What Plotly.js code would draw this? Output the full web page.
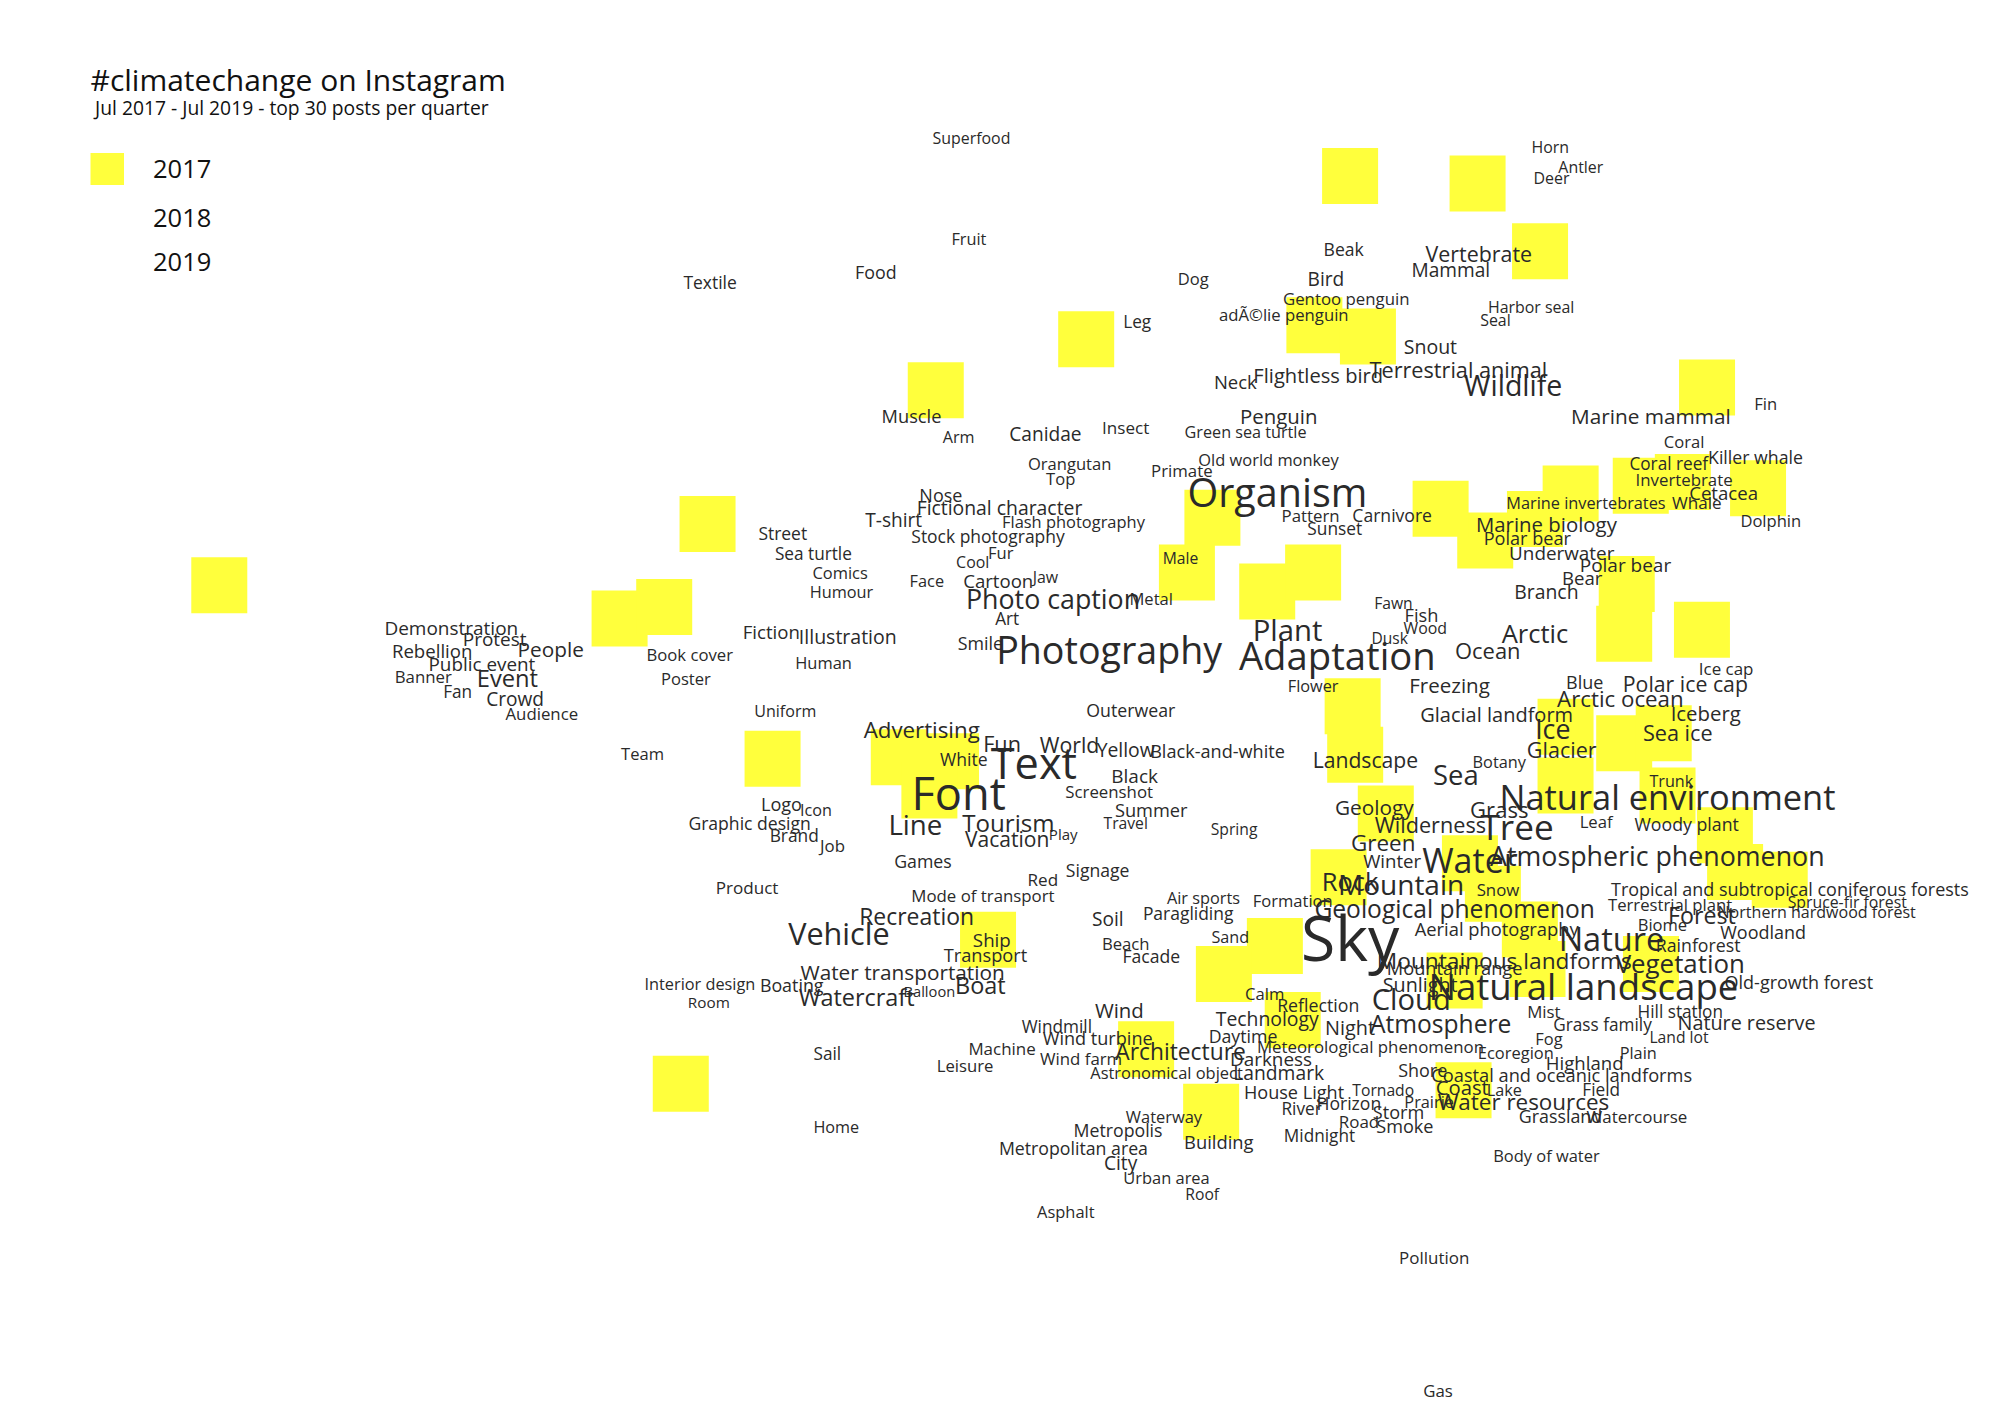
<!DOCTYPE html>
<html>
<head>
<meta charset="utf-8">
<script src="https://cdn.plot.ly/plotly-3.0.1.min.js"></script>
<style>html,body{margin:0;padding:0;background:#fff;}#chart{width:1999px;height:1414px;}</style>
</head>
<body>
<div id="chart"></div>
<script>
// ---- Data: tag labels with embedding coordinates (arbitrary units) and weight ----
const labels = [
"Superfood","Horn","Antler","Deer","Fruit","Beak","Vertebrate","Mammal","Food","Bird",
"Dog","Textile","Gentoo penguin","Harbor seal","Seal","adÃ©lie penguin","Leg","Snout","Terrestrial animal","Flightless bird",
"Neck","Wildlife","Fin","Muscle","Marine mammal","Penguin","Canidae","Insect","Green sea turtle","Arm",
"Coral","Old world monkey","Orangutan","Killer whale","Coral reef","Primate","Top","Invertebrate","Nose","Organism",
"Cetacea","Marine invertebrates","Whale","Fictional character","T-shirt","Pattern","Carnivore","Dolphin","Flash photography","Marine biology",
"Sunset","Street","Stock photography","Polar bear","Sea turtle","Fur","Underwater","Cool","Male","Polar bear",
"Comics","Jaw","Bear","Cartoon","Face","Humour","Branch","Metal","Photo caption","Fawn",
"Fish","Art","Demonstration","Wood","Plant","Fiction","Illustration","Arctic","Protest","Dusk",
"Smile","Photography","People","Rebellion","Ocean","Book cover","Adaptation","Human","Public event","Event",
"Banner","Poster","Ice cap","Flower","Freezing","Polar ice cap","Fan","Crowd","Blue","Arctic ocean",
"Outerwear","Uniform","Audience","Glacial landform","Iceberg","Advertising","Sea ice","Ice","Fun","World",
"Yellow","Black-and-white","Glacier","Team","White","Text","Landscape","Botany","Sea","Black",
"Trunk","Screenshot","Font","Natural environment","Logo","Icon","Summer","Geology","Grass","Tree",
"Graphic design","Line","Tourism","Travel","Wilderness","Leaf","Woody plant","Spring","Brand","Play",
"Vacation","Job","Green","Water","Atmospheric phenomenon","Winter","Games","Signage","Red","Rock",
"Mountain","Snow","Product","Tropical and subtropical coniferous forests","Air sports","Mode of transport","Formation","Terrestrial plant","Spruce-fir forest","Geological phenomenon",
"Northern hardwood forest","Paragliding","Recreation","Soil","Forest","Biome","Vehicle","Aerial photography","Sand","Ship",
"Woodland","Nature","Sky","Rainforest","Beach","Facade","Transport","Mountainous landforms","Vegetation","Water transportation",
"Mountain range","Interior design","Boating","Sunlight","Boat","Old-growth forest","Natural landscape","Balloon","Watercraft","Calm",
"Room","Cloud","Reflection","Wind","Mist","Hill station","Technology","Atmosphere","Nature reserve","Grass family",
"Windmill","Night","Daytime","Wind turbine","Land lot","Fog","Machine","Meteorological phenomenon","Sail","Architecture",
"Ecoregion","Plain","Darkness","Wind farm","Highland","Leisure","Astronomical object","Landmark","Shore","Coastal and oceanic landforms",
"Coast","House Light","Tornado","Lake","Field","Horizon","Prairie","Water resources","River","Storm",
"Waterway","Grassland","Watercourse","Road","Home","Smoke","Metropolis","Midnight","Building","Metropolitan area",
"Body of water","City","Urban area","Roof","Asphalt","Pollution","Gas"
];
const tagX = [
762,1216,1240,1217,760,1054,1160,1138,687,1040,
936,557,1056,1201,1173,1007,892,1122,1144,1034,
969,1187,1385,715,1295,1003,820,883,977,752,
1321,995,839,1377,1309,927,832,1321,738,1002,
1352,1244,1331,784,701,1028,1092,1389,842,1213,
1047,614,775,1198,638,785,1225,763,926,1275,
659,820,1241,783,727,660,1213,903,826,1093,
1115,790,354,1118,1010,605,665,1204,388,1090,
769,870,432,339,1167,541,1049,646,378,398,
332,538,1354,1030,1137,1322,359,404,1243,1271,
887,616,425,1174,1338,723,1316,1218,786,839,
883,955,1225,504,756,811,1071,1176,1142,890,
1311,870,752,1308,613,640,903,1078,1176,1190,
588,718,791,883,1122,1252,1323,968,623,834,
790,653,1085,1153,1300,1092,724,861,818,1059,
1099,1175,586,1404,944,771,1014,1310,1449,1141,
1425,932,719,869,1335,1304,658,1174,965,778,
1383,1264,1059,1332,883,903,773,1180,1318,708,
1141,549,621,1114,769,1411,1242,729,672,992,
556,1107,1034,878,1211,1318,994,1130,1370,1257,
829,1059,975,861,1317,1215,786,1075,649,926,
1189,1285,997,848,1243,757,915,1003,1116,1225,
1147,1015,1085,1180,1256,1058,1121,1195,1021,1097,
913,1224,1284,1066,656,1102,877,1035,956,842,
1213,879,915,943,836,1125,1128
];
const tagY = [
108,115,130,139,187,195,199,211,213,218,
218,221,234,240,250,246,252,272,290,294,
299,303,316,326,326,326,340,335,338,342,
346,360,363,358,363,369,375,376,388,388,
386,394,394,398,407,404,404,408,409,411,
414,418,420,422,434,433,433,440,437,443,
449,452,453,455,455,464,464,469,470,472,
482,485,492,492,495,495,499,497,501,500,
504,511,509,510,510,513,516,519,520,532,
530,532,524,537,537,536,542,548,535,548,
557,557,559,560,559,572,575,572,583,584,
588,589,588,591,595,600,596,597,608,608,
612,620,624,626,630,635,635,633,635,650,
645,647,646,645,647,644,646,650,655,654,
658,663,661,676,672,675,675,682,689,692,
694,697,696,697,704,702,706,709,707,713,
715,716,719,720,718,725,733,728,734,737,
731,737,739,741,740,750,749,753,756,762,
759,771,772,772,773,770,775,777,782,779,
785,784,788,792,793,793,799,803,802,803,
805,806,812,814,813,814,822,820,826,825,
825,825,830,830,833,835,841,841,839,843,
853,856,854,854,854,865,864,864,869,872,
875,875,875,879,883,883,886,890,895,900,
906,912,923,936,950,986,1090
];
// relative weight of each tag (drives the label font size)
const weight = [
12.5,12.5,12.5,12.5,12.8,13.8,16.8,15,14,15,
13,13.7,13.2,12.5,12.5,13.1,13.5,15.3,17,15.8,
14.5,22.4,13,14.3,16.3,16,15,13.4,12.7,12.7,
13,12.9,13,13.9,13.5,13.2,13,13.2,14.1,31,
14.6,12.8,13.4,15.2,15,13.2,13.8,13,12.9,16,
13.6,13.7,13.7,14.2,13.5,13,14.8,12.5,12.3,14.9,
12.9,12.5,14.6,14.6,12.8,12.8,15.2,13,21,12.3,
14.3,13.5,14.9,12.5,23,14.6,15.3,20,14.9,12.2,
14,29.5,16.3,14.6,17.2,13.1,30,12.9,14.8,18.6,
13.2,13,13.3,12.8,16.1,16.7,13.5,15,14.1,17.5,
13.9,12.6,13.2,15.7,16,17.5,17,21,17,16.7,
15.2,14.2,16.9,13,13.8,34,16.6,12.8,21.5,14.9,
12.7,13.2,35.5,27,14.2,12.7,14.3,16.3,17.3,27.6,
13.8,21.7,18.9,12.3,17,13.1,13.9,12.3,13.6,11.8,
16.5,13.2,17.6,26.7,21,14.6,13.9,13.8,13.4,20,
22,13.2,13.4,14.1,12.8,13.2,13,13.1,12.4,19.3,
12.6,13.7,18,15,18.2,13,24,14.4,12.7,14.7,
14.1,25.5,49,13.9,13.1,13.8,14.3,17.8,20.3,16.3,
14.3,12.8,14,15.5,18.4,14.1,28.7,11.5,18.4,13.1,
12,22.9,13.9,16,13.2,13.5,15.2,19.3,15.5,13.5,
13.5,15.6,13.9,14.2,12.3,12.9,13.3,13.2,13.5,17.9,
12.9,12.8,14.8,13.2,14.6,13.1,12.9,15.1,14.1,14.3,
15.9,14.2,12.3,12.7,13.5,13.8,12.8,17.6,13.5,14.2,
12.9,14,13.3,13.3,12.7,14.2,13.9,13.5,14.4,13.9,
12.9,15,12.9,12.3,12.9,13.3,13.2
];
// 2017 tags (yellow squares)
const x2017 = [172,555,486,521,606,534,734,852,1059,1159,1208,1031,1073,1339,1287,1320,1379,1232,1204,1165,
1130,951,931,994,1030,1276,1274,1335,1061,1063,1087,1228,1228,1274,1305,1308,1353,1361,1396,1153,
1050,1171,1200,1206,1141,1295,1148,1000,960,1014,899,950,775,705,746,729];
const y2017 = [459,411,485,476,595,850,306,266,138,144,197,255,264,304,381,378,383,387,407,424,
399,406,449,464,449,458,497,494,554,592,638,570,616,583,575,624,655,684,690,677,
688,701,729,760,769,756,855,742,764,800,823,872,737,594,597,620];
const years = ["2017","2018","2019"];

const W = 1999, H = 1414, UX = 1568, UY = 1109;
const k = W / UX;
const TEXT_SHIFT = 2.2;   // baseline correction of the text layer (axis units)
const FONT = "Open Sans, Noto Sans, sans-serif";
const YELLOW = "#ffff3c";

const traces = [
  {
    type: "scatter", mode: "markers", name: years[0], x: x2017, y: y2017,
    marker: {symbol: "square", size: 56, color: YELLOW, line: {width: 0}},
    hoverinfo: "skip", showlegend: false
  },
  {
    type: "scatter", mode: "text", name: "tags", x: tagX, y: tagY, text: labels,
    yaxis: "y2",
    textposition: "middle center",
    textfont: {family: FONT, size: weight.map(w => w * k), color: "#2a2a2a"},
    hoverinfo: "text", showlegend: false, cliponaxis: false
  }
];

const legY = [168, 217, 261];
const annotations = [
  {xref: "paper", yref: "paper", x: 90.5 / W, y: 1 - 107 / H, xanchor: "left", yanchor: "middle",
   text: "Jul 2017 - Jul 2019 - top 30 posts per quarter", showarrow: false,
   font: {family: FONT, size: 19.3, color: "#111"}}
];
years.forEach((yr, i) => annotations.push({
  xref: "paper", yref: "paper", x: 151 / W, y: 1 - legY[i] / H, xanchor: "left", yanchor: "middle",
  text: yr, showarrow: false, font: {family: FONT, size: 25.5, color: "#111"}
}));

const layout = {
  width: W, height: H,
  margin: {l: 0, r: 0, t: 0, b: 0, pad: 0},
  paper_bgcolor: "#ffffff", plot_bgcolor: "#ffffff",
  showlegend: false,
  title: {
    text: "#climatechange on Instagram",
    x: 90.5 / W, xref: "paper", xanchor: "left",
    y: 1 - 80 / H, yref: "container", yanchor: "middle",
    font: {family: FONT, size: 30, color: "#111"}
  },
  xaxis: {range: [0, UX], visible: false, fixedrange: true},
  yaxis: {range: [UY, 0], visible: false, fixedrange: true},
  yaxis2: {range: [UY - TEXT_SHIFT, -TEXT_SHIFT], overlaying: "y", visible: false, fixedrange: true},
  shapes: [
    {type: "rect", xref: "paper", yref: "paper",
     x0: 90.5 / W, x1: 124 / W, y0: 1 - 185 / H, y1: 1 - 153 / H,
     fillcolor: YELLOW, line: {width: 0}}
  ],
  annotations: annotations
};

Plotly.newPlot("chart", traces, layout, {displayModeBar: false, staticPlot: true});
</script>
</body>
</html>
